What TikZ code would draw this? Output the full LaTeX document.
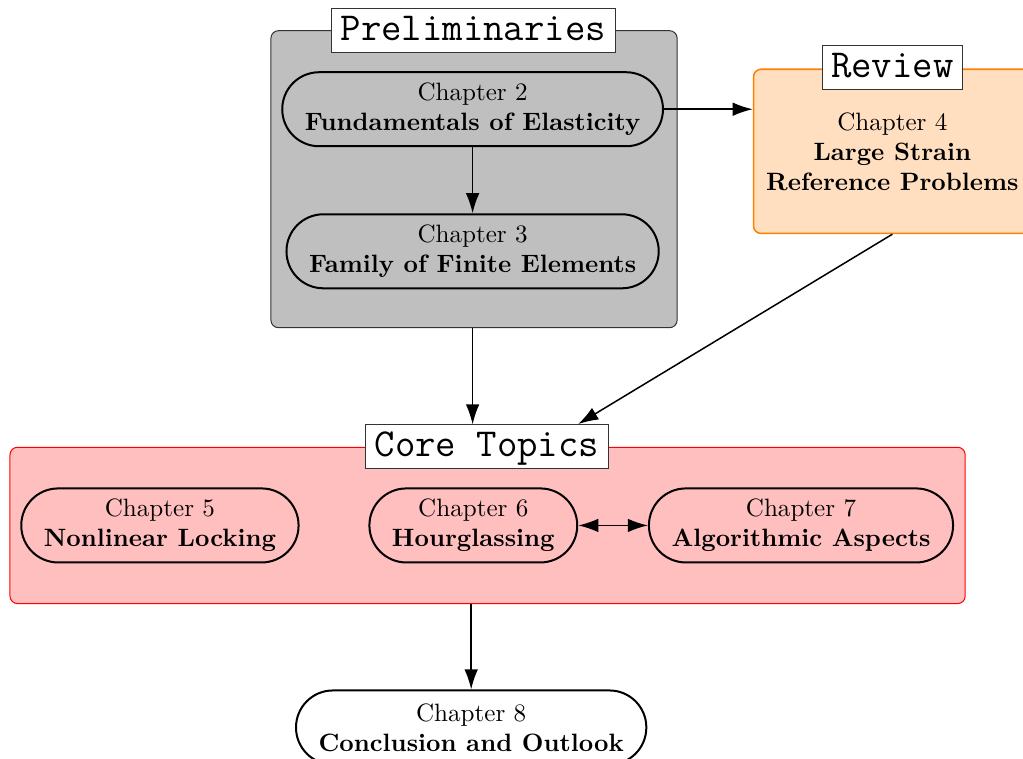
\documentclass[tikz,border=0pt]{standalone}
\usetikzlibrary{arrows.meta}

\begin{document}
\begin{tikzpicture}[
        chapter/.style={draw, thick, rectangle, rounded corners=14.7pt, align=center,
                        minimum height=29.5pt, inner xsep=9pt},
        boxtitle/.style={draw=black!80, fill=white, inner xsep=3.6pt, inner ysep=1.8pt,
                         text height=10.9pt, text depth=3pt,
                         font=\fontsize{15.8pt}{19pt}\selectfont\ttfamily},
        arr/.style={semithick, -{Latex[length=8pt,width=5.4pt]}},
        arrboth/.style={semithick, {Latex[length=8pt,width=5.4pt]}-{Latex[length=8pt,width=5.4pt]}}
    ]

    \useasboundingbox (0,0) rectangle (14.33,-10.62);

    % Frames
    \node[draw=black!80, fill=gray!50, rounded corners=3pt,
          minimum width=5.69cm, minimum height=4.16cm] (prelim) at (6.64,-2.51) {};
    \node[draw=orange, semithick, fill=orange!25, rounded corners=3pt,
          minimum width=3.89cm, minimum height=2.30cm] (review) at (12.50,-2.12) {};
    \node[draw=red, fill=red!25, rounded corners=3pt,
          minimum width=13.38cm, minimum height=2.19cm] (core) at (6.83,-7.36) {};

    % Frame titles
    \node[boxtitle] (prelimtitle) at (6.63,-0.43) {Preliminaries};
    \node[boxtitle] (reviewtitle) at (12.50,-0.95) {Review};
    \node[boxtitle] (coretitle) at (6.82,-6.26) {Core Topics};

    % Chapters
    \node[chapter] (ch2) at (6.62,-1.53) {Chapter 2\\\textbf{Fundamentals of Elasticity}};
    \node[chapter] (ch3) at (6.62,-3.52) {Chapter 3\\\textbf{Family of Finite Elements}};
    \node[align=center] (ch4) at (12.50,-2.13) {Chapter 4\\\textbf{Large Strain}\\\textbf{Reference Problems}};
    \node[chapter] (ch5) at (2.24,-7.36) {Chapter 5\\\textbf{Nonlinear Locking}};
    \node[chapter] (ch6) at (6.63,-7.36) {Chapter 6\\\textbf{Hourglassing}};
    \node[chapter] (ch7) at (11.22,-7.36) {Chapter 7\\\textbf{Algorithmic Aspects}};
    \node[chapter, fill=white] (ch8) at (6.60,-10.19) {Chapter 8\\\textbf{Conclusion and Outlook}};

    % Arrows
    \coordinate (coretarget) at (8.10,-5.94);
    \draw[arr] (ch2) -- (ch3);
    \draw[arr] (ch2.east) -- (ch2.east -| review.west);
    \draw[arr] (prelim.south -| ch2) -- (coretitle.north -| ch2);
    \draw[arr] (review.south) -- (coretarget);
    \draw[arrboth] (ch6) -- (ch7);
    \draw[arr] (core.south -| ch8) -- (ch8);

\end{tikzpicture}
\end{document}
